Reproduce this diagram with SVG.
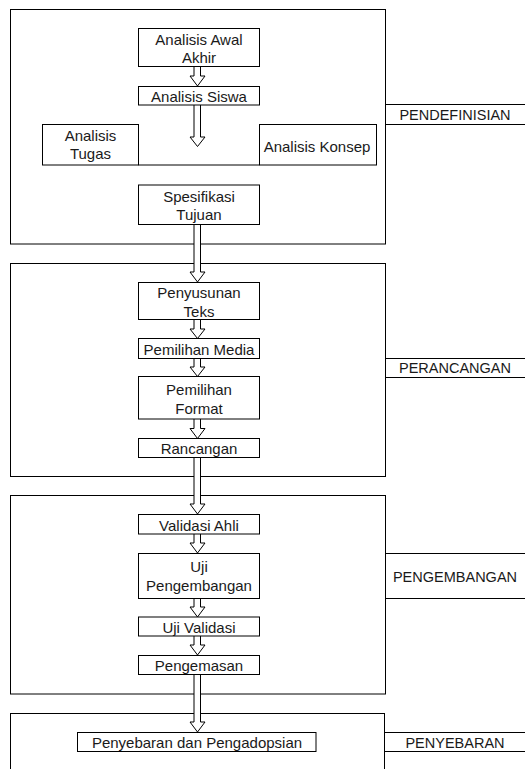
<svg xmlns="http://www.w3.org/2000/svg" width="525" height="769" viewBox="0 0 525 769">
<style>
.frame{fill:none;stroke:#000;stroke-width:1}
.box{fill:#fff;stroke:#000;stroke-width:1}
.ln{fill:none;stroke:#000;stroke-width:1}
.arr{fill:#fff;stroke:#000;stroke-width:1;stroke-linejoin:miter}
text{font-family:"Liberation Sans",Arial,sans-serif;fill:#1a1a1a}
.t{font-size:15px;text-anchor:middle}
.lb{font-size:14.5px;text-anchor:middle}
</style>
<rect width="525" height="769" fill="#fff"/>
<g id="phase-pendefinisian">
<rect class="frame" x="10.5" y="9.5" width="375" height="234.5"/>
<path class="ln" d="M385.5 104.5H526M385.5 124.5H526"/>
<text class="lb" x="455" y="119.5">PENDEFINISIAN</text>
</g>
<g id="phase-perancangan">
<rect class="frame" x="10.5" y="263.5" width="375" height="213"/>
<path class="ln" d="M385.5 358.5H526M385.5 377.5H526"/>
<text class="lb" x="455" y="373">PERANCANGAN</text>
</g>
<g id="phase-pengembangan">
<rect class="frame" x="10.5" y="495.5" width="375" height="198.5"/>
<path class="ln" d="M385.5 553.5H526M385.5 598.5H526"/>
<text class="lb" x="455" y="581.5">PENGEMBANGAN</text>
</g>
<g id="phase-penyebaran">
<rect class="frame" x="10.5" y="713.5" width="374" height="70"/>
<path class="ln" d="M384.5 732.5H526M384.5 751.5H526"/>
<text class="lb" x="455" y="747.5">PENYEBARAN</text>
</g>
<g id="connectors">
<path class="arr" d="M194 66.5V76H190L197.5 86L205 76H200.5V66.5"/>
<path class="arr" d="M194 105V137H190L197.5 146.5L205 137H200.5V105"/>
<path class="arr" d="M194 224.5V272H190L197.5 282L205 272H200.5V224.5"/>
<path class="arr" d="M194 319.5V329H190L197.5 338.5L205 329H200.5V319.5"/>
<path class="arr" d="M194 358.5V367H190L197.5 376.5L205 367H200.5V358.5"/>
<path class="arr" d="M194 419V428.5H190L197.5 438.5L205 428.5H200.5V419"/>
<path class="arr" d="M194 457.5V504H190L197.5 514L205 504H200.5V457.5"/>
<path class="arr" d="M194 534V543H190L197.5 553L205 543H200.5V534"/>
<path class="arr" d="M194 598.5V607H190L197.5 617L205 607H200.5V598.5"/>
<path class="arr" d="M194 636V645H190L197.5 655L205 645H200.5V636"/>
<path class="arr" d="M194 674.5V722H190L197.5 732L205 722H200.5V674.5"/>
</g>
<g id="analisis-awal-akhir">
<rect class="box" x="138.5" y="28.5" width="121" height="38"/>
<text class="t" x="199" y="45">Analisis Awal</text>
<text class="t" x="199" y="63">Akhir</text>
</g>
<g id="analisis-siswa">
<rect class="box" x="138.5" y="86.5" width="121" height="18.5"/>
<text class="t" x="199" y="101.5">Analisis Siswa</text>
</g>
<g id="analisis-tugas">
<rect class="box" x="42.5" y="124.5" width="96" height="40.5"/>
<text class="t" x="90.5" y="140.5">Analisis</text>
<text class="t" x="90.5" y="159">Tugas</text>
</g>
<path class="ln" d="M138.5 165H259.5"/>
<g id="analisis-konsep">
<rect class="box" x="259.5" y="124.5" width="117" height="40.5"/>
<text class="t" x="317" y="151.5">Analisis Konsep</text>
</g>
<g id="spesifikasi-tujuan">
<rect class="box" x="138.5" y="185" width="121" height="39.5"/>
<text class="t" x="199" y="201.5">Spesifikasi</text>
<text class="t" x="199" y="220">Tujuan</text>
</g>
<g id="penyusunan-teks">
<rect class="box" x="138.5" y="282.5" width="121" height="37"/>
<text class="t" x="199" y="297.5">Penyusunan</text>
<text class="t" x="199" y="316.5">Teks</text>
</g>
<g id="pemilihan-media">
<rect class="box" x="138.5" y="338.5" width="121" height="20"/>
<text class="t" x="199" y="354.5">Pemilihan Media</text>
</g>
<g id="pemilihan-format">
<rect class="box" x="138.5" y="376.5" width="121" height="42.5"/>
<text class="t" x="199" y="395">Pemilihan</text>
<text class="t" x="199" y="414">Format</text>
</g>
<g id="rancangan">
<rect class="box" x="138.5" y="438.5" width="121" height="19"/>
<text class="t" x="199" y="453.5">Rancangan</text>
</g>
<g id="validasi-ahli">
<rect class="box" x="138.5" y="514.5" width="121" height="19.5"/>
<text class="t" x="199" y="531">Validasi Ahli</text>
</g>
<g id="uji-pengembangan">
<rect class="box" x="138.5" y="553.5" width="121" height="45"/>
<text class="t" x="199" y="571.5">Uji</text>
<text class="t" x="199" y="590.5">Pengembangan</text>
</g>
<g id="uji-validasi">
<rect class="box" x="138.5" y="617" width="121" height="19"/>
<text class="t" x="199" y="632.5">Uji Validasi</text>
</g>
<g id="pengemasan">
<rect class="box" x="138.5" y="655.5" width="121" height="19"/>
<text class="t" x="199" y="671">Pengemasan</text>
</g>
<g id="penyebaran-pengadopsian">
<rect class="box" x="77.5" y="732.5" width="238.5" height="19"/>
<text class="t" x="197" y="748">Penyebaran dan Pengadopsian</text>
</g>
</svg>
